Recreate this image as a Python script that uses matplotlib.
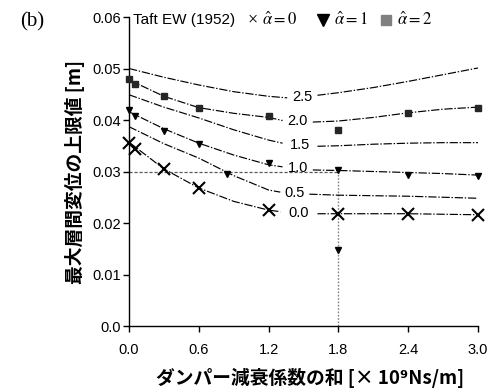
import matplotlib
matplotlib.use("Agg")
import matplotlib.pyplot as plt

# --- data ---
# upper-limit curves (labelled by alpha-hat), each split into a left and right piece
curve_labels = ["2.5", "2.0", "1.5", "1.0", "0.5", "0.0"]
left_x = [
    [0.0, 0.3, 0.6, 0.9, 1.2, 1.36],
    [0.0, 0.3, 0.6, 0.9, 1.2, 1.32],
    [0.0, 0.3, 0.6, 0.9, 1.2, 1.32],
    [0.0, 0.3, 0.6, 0.9, 1.2, 1.32],
    [0.0, 0.3, 0.6, 0.9, 1.2, 1.30],
    [0.0, 0.3, 0.6, 0.9, 1.2, 1.30],
]
left_y = [
    [0.0500, 0.0483, 0.0468, 0.0455, 0.0446, 0.0443],
    [0.0478, 0.0446, 0.0424, 0.0413, 0.0405, 0.0399],
    [0.0449, 0.0425, 0.0404, 0.0381, 0.0361, 0.0355],
    [0.0416, 0.0383, 0.0355, 0.0332, 0.0313, 0.0309],
    [0.0387, 0.0354, 0.0326, 0.0292, 0.0264, 0.0260],
    [0.0357, 0.0305, 0.0268, 0.0242, 0.0225, 0.0222],
]
right_x = [
    [1.62, 1.8, 2.1, 2.4, 2.7, 3.0],
    [1.58, 1.8, 2.1, 2.4, 2.7, 3.0],
    [1.62, 1.8, 2.1, 2.4, 2.7, 3.0],
    [1.58, 1.8, 2.1, 2.4, 2.7, 3.0],
    [1.55, 1.8, 2.1, 2.4, 2.7, 3.0],
    [1.62, 1.8, 2.1, 2.4, 2.7, 3.0],
]
right_y = [
    [0.0448, 0.0453, 0.0463, 0.0475, 0.0488, 0.0501],
    [0.0396, 0.0398, 0.0405, 0.0414, 0.0421, 0.0425],
    [0.0349, 0.0350, 0.0353, 0.0355, 0.0356, 0.0356],
    [0.0303, 0.0302, 0.0300, 0.0298, 0.0296, 0.0293],
    [0.0256, 0.0254, 0.0253, 0.0252, 0.0250, 0.0248],
    [0.0218, 0.0218, 0.0218, 0.0218, 0.0217, 0.0216],
]

# response points
a0_x = [0.0, 0.05, 0.3, 0.6, 1.2, 1.8, 2.4, 3.0]
a0_y = [0.0355, 0.0344, 0.0304, 0.0268, 0.0225, 0.0218, 0.0218, 0.0216]
a1_x = [0.0, 0.05, 0.3, 0.6, 0.84, 1.2, 1.8, 1.8, 2.4, 3.0]
a1_y = [0.0420, 0.0407, 0.0379, 0.0353, 0.0296, 0.0317, 0.0302, 0.0147, 0.0294, 0.0291]
a2_x = [0.0, 0.05, 0.3, 0.6, 1.2, 1.8, 2.4, 3.0]
a2_y = [0.0479, 0.0470, 0.0446, 0.0424, 0.0408, 0.0381, 0.0414, 0.0424]

ref_x = 1.8
ref_y = 0.03

xticks = [0.0, 0.6, 1.2, 1.8, 2.4, 3.0]
yticks = [0.0, 0.01, 0.02, 0.03, 0.04, 0.05, 0.06]
ytick_labels = ["0.0", "0.01", "0.02", "0.03", "0.04", "0.05", "0.06"]

num_font = ["Liberation Sans Narrow", "Liberation Sans", "DejaVu Sans"]
jp_font = ["Noto Sans CJK JP", "DejaVu Sans"]
plt.rcParams["mathtext.fontset"] = "stix"

fig = plt.figure(figsize=(4.95, 3.9), dpi=100)
ax = fig.add_axes([0.2606, 0.1641, 0.7051, 0.7923])

# reference dotted lines
ax.plot([0, ref_x], [ref_y, ref_y], color="0.35", lw=0.9, ls=(0, (2.5, 1.5)))
ax.plot([ref_x, ref_x], [0, ref_y], color="0.5", lw=1.0, ls=(0, (1.2, 1.2)))

dashdot = (0, (7, 1.5, 1.2, 1.5))
for lab, lx, ly, rx, ry in zip(curve_labels, left_x, left_y, right_x, right_y):
    ax.plot(lx, ly, color="black", lw=0.85, ls=dashdot)
    ax.plot(rx, ry, color="black", lw=0.85, ls=dashdot)
    mx = (lx[-1] + rx[0]) / 2
    my = (ly[-1] + ry[0]) / 2
    ax.text(mx, my, lab, ha="center", va="center", fontsize=10.5,
            family=num_font)

ax.plot(a0_x, a0_y, ls="none", marker="x", ms=8.5, mew=1.5, color="black",
        clip_on=False, zorder=4)
ax.plot(a1_x, a1_y, ls="none", marker="v", ms=5, color="black",
        clip_on=False, zorder=4)
ax.plot(a2_x, a2_y, ls="none", marker="s", ms=5, color="0.15",
        clip_on=False, zorder=4)

ax.set_xlim(0, 3.0)
ax.set_ylim(0, 0.06)
ax.set_xticks(xticks)
ax.set_xticklabels([f"{v:.1f}" for v in xticks], family=num_font, fontsize=10.5)
ax.set_yticks(yticks)
ax.set_yticklabels(ytick_labels, family=num_font, fontsize=10.5)
ax.tick_params(direction="out", length=4, width=1.0, pad=2)
ax.tick_params(axis="x", pad=8)
for s in ("top", "right"):
    ax.spines[s].set_visible(False)
for s in ("left", "bottom"):
    ax.spines[s].set_linewidth(1.0)

ax.set_xlabel("ダンパー減衰係数の和 [× 10⁹Ns/m]", family=jp_font,
              fontsize=13.5, fontweight="bold", labelpad=4)
ax.set_ylabel("最大層間変位の上限値 [m]", family=jp_font,
              fontsize=13.5, fontweight="bold", labelpad=5)
ax.xaxis.set_label_coords(0.52, -0.135)

# title and legend row
ax.text(0.012, 0.99, "Taft EW (1952)", transform=ax.transAxes, ha="left",
        va="center", fontsize=11, family=["Liberation Sans", "DejaVu Sans"])
ax.text(0.355, 0.99, "×", transform=ax.transAxes, ha="center", va="center",
        fontsize=13, family=["Liberation Serif", "DejaVu Serif"])
ax.text(0.382, 0.99, r"$\hat{\alpha}=0$", transform=ax.transAxes, ha="left",
        va="center", fontsize=12)
ax.plot([0.556], [0.99], marker="v", ms=8, color="black",
        transform=ax.transAxes, clip_on=False)
ax.text(0.587, 0.99, r"$\hat{\alpha}=1$", transform=ax.transAxes, ha="left",
        va="center", fontsize=12)
ax.plot([0.735], [0.99], marker="s", ms=7, color="0.5",
        transform=ax.transAxes, clip_on=False)
ax.text(0.768, 0.99, r"$\hat{\alpha}=2$", transform=ax.transAxes, ha="left",
        va="center", fontsize=12)

fig.text(0.04, 0.943, "(b)", ha="left", va="center", fontsize=15,
         family=["Liberation Serif", "DejaVu Serif"])

fig.savefig("out.png", dpi=100)
